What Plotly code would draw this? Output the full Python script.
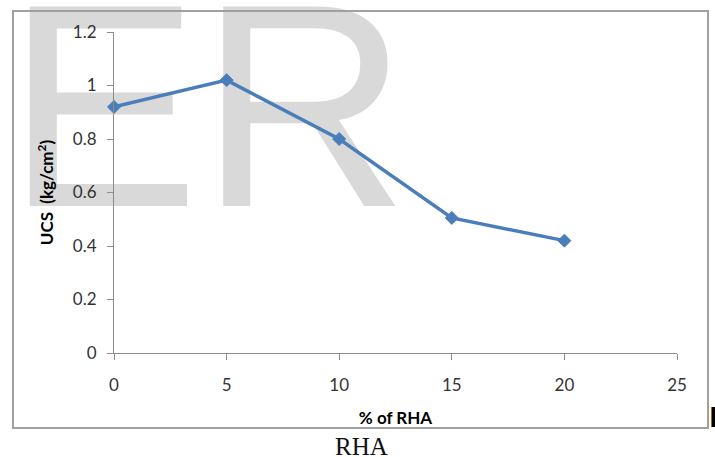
import plotly.graph_objects as go

# Data
rha_percent = [0, 5, 10, 15, 20]
ucs_values = [0.92, 1.02, 0.80, 0.505, 0.42]
x_ticks = [0, 5, 10, 15, 20, 25]
y_ticks = [0, 0.2, 0.4, 0.6, 0.8, 1.0, 1.2]
y_tick_labels = ["0", "0.2", "0.4", "0.6", "0.8", "1", "1.2"]

W, H = 715, 457
L, R, T, B = 114, 38, 32, 104
PW, PH = W - L - R, H - T - B


def px_x(px):
    return (px - L) / PW


def px_y(py):
    return (H - B - py) / PH


fig = go.Figure()
fig.add_trace(go.Scatter(
    x=rha_percent, y=ucs_values, mode="lines+markers",
    line=dict(color="#4a7ebb", width=3.5),
    marker=dict(symbol="diamond", size=10, color="#4a7ebb",
                line=dict(color="#4a7ebb", width=1)),
    showlegend=False, cliponaxis=False,
))

tick_font = dict(family="Lato, Open Sans, sans-serif", size=17, color="#333333")
title_font = dict(family="Lato, Open Sans, sans-serif", size=17, color="#000000")

fig.update_layout(
    width=W, height=H,
    margin=dict(l=L, r=R, t=T, b=B, pad=0),
    paper_bgcolor="white", plot_bgcolor="rgba(0,0,0,0)",
    xaxis=dict(
        range=[0, 25], tickvals=x_ticks, ticktext=[str(v) for v in x_ticks],
        showgrid=False, zeroline=False, showline=True, linecolor="#8c8c8c", linewidth=1,
        ticks="outside", ticklen=6, tickcolor="#8c8c8c", tickfont=tick_font,
        ticklabelstandoff=11,
        title=dict(text="<b>% of RHA</b>", font=title_font, standoff=17),
    ),
    yaxis=dict(
        range=[0, 1.2], tickvals=y_ticks, ticktext=y_tick_labels,
        showgrid=False, zeroline=False, showline=True, linecolor="#8c8c8c", linewidth=1,
        ticks="outside", ticklen=6, tickcolor="#8c8c8c", tickfont=tick_font,
        ticklabelstandoff=7,
        title=dict(text="<b>UCS  (kg/cm<sup>2</sup>)</b>", font=title_font, standoff=14),
    ),
    shapes=[
        # watermark
        dict(type="rect", xref="paper", yref="paper",
             x0=px_x(3), x1=px_x(420), y0=px_y(240), y1=px_y(-10),
             line=dict(width=0), fillcolor="rgba(0,0,0,0)", layer="below",
             label=dict(text="ER", textposition="bottom left", padding=0,
                        font=dict(family="Liberation Sans, Arial, sans-serif",
                                  size=290, color="#d9d9d9"))),
        # chart-area border
        dict(type="rect", xref="paper", yref="paper",
             x0=px_x(13), x1=px_x(708), y0=px_y(428), y1=px_y(11),
             line=dict(color="#a0a0a0", width=2), fillcolor="rgba(0,0,0,0)", layer="above"),
    ],
    annotations=[
        dict(text="RHA", xref="paper", yref="paper", x=px_x(361), y=px_y(446),
             xanchor="center", yanchor="middle", showarrow=False,
             font=dict(family="Liberation Serif, Times New Roman, serif", size=25, color="#111111")),
        dict(text="<b>I</b>", xref="paper", yref="paper", x=px_x(707), y=px_y(418),
             xanchor="left", yanchor="middle", showarrow=False,
             font=dict(family="DejaVu Sans, Liberation Sans, sans-serif", size=26, color="#000000")),
    ],
)

fig.write_html("out.html", config={"displayModeBar": False},
               post_script="document.body.style.margin='0px';")
